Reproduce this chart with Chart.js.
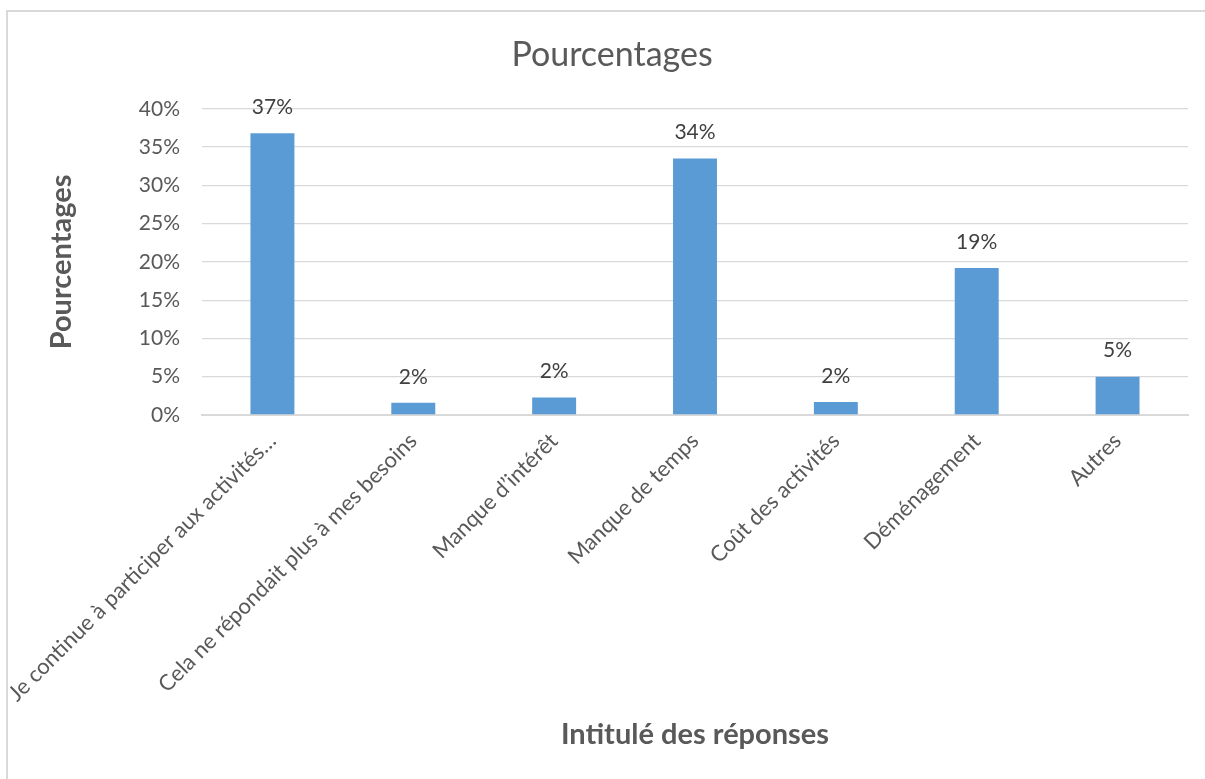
<!DOCTYPE html>
<html>
<head>
<meta charset="utf-8">
<script src="https://cdn.jsdelivr.net/npm/chart.js@4/dist/chart.umd.min.js"></script>
<style>
html, body { margin:0; padding:0; background:#fff; overflow:hidden; }
#frame { position:absolute; left:6px; top:10px; width:1400px; height:1000px; border:2px solid #d9d9d9; }
#wrap { position:absolute; left:0; top:0; width:1205px; height:779px; }
</style>
</head>
<body>
<div id="frame"></div>
<div id="wrap"><canvas id="chart" width="1205" height="779"></canvas></div>
<script>
// ----------------------------
// DATA
// ----------------------------

const categories = [
  "Je continue à participer aux activités…",
  "Cela ne répondait plus à mes besoins",
  "Manque d’intérêt",
  "Manque de temps",
  "Coût des activités",
  "Déménagement",
  "Autres"
]

const percentages = [36.8, 1.6, 2.3, 33.5, 1.7, 19.2, 5.0]

const yTicks = [0, 5, 10, 15, 20, 25, 30, 35, 40]

const FONT = "Lato"
const GREY = "#595959"

// ----------------------------
// DATA LABELS ABOVE BARS
// ----------------------------

const barLabels = {
  id: "barLabels",
  afterDatasetsDraw(chart) {
    const ctx = chart.ctx
    const meta = chart.getDatasetMeta(0)
    ctx.save()
    ctx.font = "21px " + FONT
    ctx.fillStyle = "#404040"
    ctx.textAlign = "center"
    ctx.textBaseline = "middle"
    meta.data.forEach((bar, i) => {
      ctx.fillText(Math.round(percentages[i]) + "%", bar.x, bar.y - 26)
    })
    ctx.restore()
  }
}

const ctx = document.getElementById("chart").getContext("2d")

new Chart(ctx, {
  type: "bar",
  data: {
    labels: categories,
    datasets: [{
      label: "Pourcentages",
      data: percentages,
      backgroundColor: "#5b9bd5",
      borderWidth: 0,
      barPercentage: 0.312,
      categoryPercentage: 1
    }]
  },
  options: {
    responsive: false,
    animation: false,
    // left/right padding also centres the title like the original
    layout: { padding: { left: 36, right: 17, top: 0, bottom: 0 } },
    plugins: {
      legend: { display: false },
      tooltip: { enabled: false },
      title: {
        display: true,
        text: "Pourcentages",
        color: GREY,
        font: { family: FONT, size: 34, weight: "normal" },
        padding: { top: 35, bottom: 33 }
      }
    },
    scales: {
      x: {
        grid: { display: false, drawTicks: false },
        border: { color: "#d9d9d9", width: 2 },
        ticks: {
          color: GREY,
          font: { family: FONT, size: 22 },
          autoSkip: false,
          minRotation: 45,
          maxRotation: 45,
          padding: 13
        },
        title: {
          display: true,
          text: "Intitulé des réponses",
          color: GREY,
          font: { family: FONT, size: 29, weight: "bold" },
          padding: { bottom: 27 }
        },
        afterFit(scale) {
          scale.height = 364
          scale.paddingLeft = 0
          scale.paddingRight = 0
        }
      },
      y: {
        min: 0,
        max: 40,
        afterBuildTicks(scale) { scale.ticks = yTicks.map(v => ({ value: v })) },
        grid: { color: "#d9d9d9", lineWidth: 1.3, drawTicks: false },
        border: { display: false },
        ticks: {
          color: GREY,
          font: { family: FONT, size: 21 },
          padding: 22,
          callback: v => v + "%"
        },
        title: {
          display: true,
          text: "Pourcentages",
          color: GREY,
          font: { family: FONT, size: 29, weight: "bold" },
          padding: { top: 8 }
        },
        afterFit(scale) { scale.width = 166 }
      }
    }
  },
  plugins: [barLabels]
})
</script>
</body>
</html>
